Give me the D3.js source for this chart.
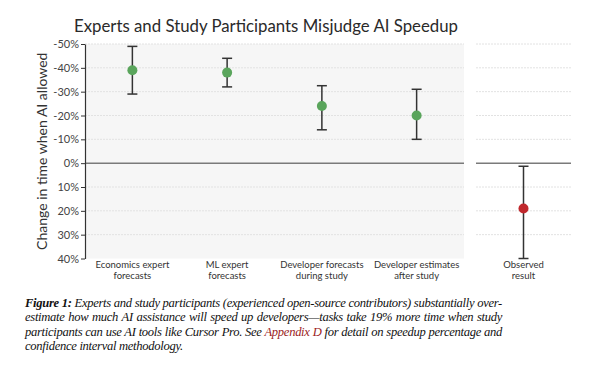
<!DOCTYPE html>
<html>
<head>
<meta charset="utf-8">
<script src="https://cdn.jsdelivr.net/npm/d3@7"></script>
<style>
  body { margin: 0; background: #fff; }
  #wrap { position: relative; width: 600px; height: 368px; overflow: hidden; }
  .caption {
    position: absolute; left: 25px; top: 296px; width: 477px;
    font-family: "Liberation Serif", "Times New Roman", serif;
    font-style: italic; font-size: 12.6px; line-height: 14.4px; color: #111;
    letter-spacing: -0.3px;
  }
  .caption div { white-space: nowrap; }
  .caption div span.line { display: inline-block; }
  .caption b { font-weight: bold; }
  .caption .ref { color: #9b1c1c; }
</style>
</head>
<body>
<div id="wrap">
  <div class="chart"></div>
  <div class="caption">
    <div><span class="line just"><b>Figure 1:</b> Experts and study participants (experienced open-source contributors) substantially over-</span></div>
    <div><span class="line just">estimate how much AI assistance will speed up developers—tasks take 19% more time when study</span></div>
    <div><span class="line just">participants can use AI tools like Cursor Pro. See <span class="ref">Appendix D</span> for detail on speedup percentage and</span></div>
    <div><span class="line">confidence interval methodology.</span></div>
  </div>
</div>
<script>
// data (negative = faster)
const categories = ["Economics expert forecasts", "ML expert forecasts", "Developer forecasts during study", "Developer estimates after study", "Observed result"];
const labelLines = [["Economics expert", "forecasts"], ["ML expert", "forecasts"], ["Developer forecasts", "during study"], ["Developer estimates", "after study"], ["Observed", "result"]];
const estimates = [-39, -38, -24, -20, 19];
const ciTop = [-49, -44, -32.5, -31, 1.3];
const ciBottom = [-29, -32, -14, -10, 40];
const tickValues = [-50, -40, -30, -20, -10, 0, 10, 20, 30, 40];
const forecastCats = categories.slice(0, 4);
const observedCats = categories.slice(4);

const width = 600, height = 292;
const font = "Lato, 'Noto Sans', sans-serif";

const svg = d3.select(".chart").append("svg")
  .attr("width", width).attr("height", height)
  .style("display", "block");

const y = d3.scaleLinear().domain([-50, 40]).range([44, 258.5]);
const xLeft = d3.scaleBand().domain(forecastCats).range([85, 464]);
const xRight = d3.scaleBand().domain(observedCats).range([476, 571]);
const xPos = c => forecastCats.includes(c) ? xLeft(c) + xLeft.bandwidth() / 2 : xRight(c) + xRight.bandwidth() / 2;

// left panel background
svg.append("rect")
  .attr("x", 85).attr("y", y(-50))
  .attr("width", 464 - 85).attr("height", y(40) - y(-50))
  .attr("fill", "#f6f6f6");

// gridlines in both panels
const panels = [[85, 464], [476, 571]];
panels.forEach(p => {
  svg.append("g").selectAll("line")
    .data(tickValues.filter(d => d !== 0 && d !== 40))
    .enter().append("line")
    .attr("x1", p[0]).attr("x2", p[1])
    .attr("y1", d => y(d)).attr("y2", d => y(d))
    .attr("stroke", "#e2e2e2").attr("stroke-width", 1)
    .attr("stroke-dasharray", "2,1");
  svg.append("line")
    .attr("x1", p[0]).attr("x2", p[1])
    .attr("y1", y(0)).attr("y2", y(0))
    .attr("stroke", "#7a7a7a").attr("stroke-width", 1.5);
});

// y axis
const yAxis = svg.append("g")
  .attr("transform", "translate(85,0)")
  .call(d3.axisLeft(y).tickValues(tickValues).tickFormat(d => d + "%").tickSize(4).tickSizeOuter(0));
yAxis.select(".domain").attr("stroke", "#333").attr("stroke-width", 1.2);
yAxis.selectAll(".tick line").attr("stroke", "#333");
yAxis.selectAll(".tick text")
  .attr("fill", "#444").style("font-family", font).style("font-size", "11px").attr("x", -6);

// y label
svg.append("text")
  .attr("transform", "translate(42," + (y(-50) + y(40)) / 2 + ") rotate(-90)")
  .attr("text-anchor", "middle").attr("dy", "0.35em")
  .attr("fill", "#333").style("font-family", font).style("font-size", "14px")
  .text("Change in time when AI allowed");

// title
svg.append("text")
  .attr("x", 266).attr("y", 32)
  .attr("text-anchor", "middle")
  .attr("fill", "#2a2a2a").style("font-family", font).style("font-size", "16.8px")
  .text("Experts and Study Participants Misjudge AI Speedup");

// category labels, one text per line
svg.append("g").selectAll("g")
  .data(categories).enter().append("g")
  .each(function(c, i) {
    d3.select(this).selectAll("text").data(labelLines[i]).enter().append("text")
      .attr("x", xPos(c)).attr("y", (d, j) => 268 + j * 11.4)
      .attr("text-anchor", "middle")
      .attr("fill", "#333").style("font-family", font).style("font-size", "9.5px")
      .text(d => d);
  });

// error bars
const bars = svg.append("g").selectAll("g")
  .data(categories).enter().append("g")
  .attr("stroke", "#333").attr("stroke-width", 1.5);
bars.append("line")
  .attr("x1", c => xPos(c)).attr("x2", c => xPos(c))
  .attr("y1", (c, i) => y(ciTop[i])).attr("y2", (c, i) => y(ciBottom[i]));
bars.append("line")
  .attr("x1", c => xPos(c) - 5).attr("x2", c => xPos(c) + 5)
  .attr("y1", (c, i) => y(ciTop[i])).attr("y2", (c, i) => y(ciTop[i]));
bars.append("line")
  .attr("x1", c => xPos(c) - 5).attr("x2", c => xPos(c) + 5)
  .attr("y1", (c, i) => y(ciBottom[i])).attr("y2", (c, i) => y(ciBottom[i]));

// points
svg.append("g").selectAll("circle")
  .data(categories).enter().append("circle")
  .attr("cx", c => xPos(c))
  .attr("cy", (c, i) => y(estimates[i]))
  .attr("r", 5)
  .attr("fill", (c, i) => i < 4 ? "#5aa55c" : "#c0282c");

// justify caption lines by spreading the word gaps
d3.selectAll(".caption .just").each(function() {
  const w = this.getBoundingClientRect().width;
  const gaps = (this.textContent.match(/ /g) || []).length;
  d3.select(this).style("word-spacing", ((477 - w) / gaps) + "px");
});
</script>
</body>
</html>
